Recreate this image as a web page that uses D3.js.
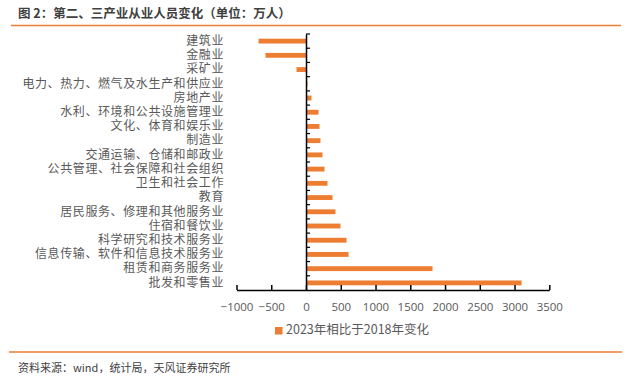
<!DOCTYPE html>
<html><head><meta charset="utf-8">
<script src="https://cdn.jsdelivr.net/npm/d3@7"></script>
<style>body{margin:0;background:#fff}svg{display:block}</style>
</head><body>
<script>
const categories = ["建筑业","金融业","采矿业","电力、热力、燃气及水生产和供应业","房地产业","水利、环境和公共设施管理业","文化、体育和娱乐业","制造业","交通运输、仓储和邮政业","公共管理、社会保障和社会组织","卫生和社会工作","教育","居民服务、修理和其他服务业","住宿和餐饮业","科学研究和技术服务业","信息传输、软件和信息技术服务业","租赁和商务服务业","批发和零售业"];
const values = [-683,-583,-137,22,79,180,194,208,237,266,309,381,424,496,583,612,1820,3101];
const xTicks = [-1000,-500,0,500,1000,1500,2000,2500,3000,3500];
const seriesName = "2023年相比于2018年变化";
const title = "图 2：第二、三产业从业人员变化（单位：万人）";
const source = "资料来源：wind，统计局，天风证券研究所";

const W = 629, H = 381;
const cjk = "'Noto Sans CJK SC','Microsoft YaHei',sans-serif";
const svg = d3.select("body").append("svg").attr("width", W).attr("height", H);

svg.append("text").attr("x", 18).attr("y", 18).text(title)
  .attr("font-family", cjk).attr("font-size", 12.5).attr("font-weight", "bold").attr("fill", "#404040");
svg.append("line").attr("x1", 11).attr("x2", 621).attr("y1", 25.5).attr("y2", 25.5)
  .attr("stroke", "#ED7D31").attr("stroke-width", 1.5);

const x = d3.scaleLinear().domain([-1000, 3500]).range([236.5, 549.3]);
const y = d3.scaleBand().domain(categories).range([34, 290]).paddingInner(0.66).paddingOuter(0.33);
const yb = d3.scaleBand().domain(categories).range([34, 290]);

svg.append("g").selectAll("rect").data(categories).join("rect")
  .attr("x", (d, i) => x(Math.min(0, values[i])))
  .attr("width", (d, i) => Math.abs(x(values[i]) - x(0)))
  .attr("y", d => y(d))
  .attr("height", y.bandwidth())
  .attr("fill", "#ED7D31");

// x axis
const xa = svg.append("g").attr("transform", "translate(0,290)")
  .call(d3.axisBottom(x).tickValues(xTicks).tickFormat(d3.format("d")).tickSizeInner(-5).tickSizeOuter(0).tickPadding(13));
xa.select(".domain").attr("stroke", "#000").attr("stroke-width", 1.5);
xa.selectAll(".tick line").attr("stroke", "#000").attr("stroke-width", 1.5);
xa.selectAll("text").attr("font-family", "'Open Sans','Noto Sans',sans-serif").attr("font-size", 11.5).attr("fill", "#595959");

// y axis at zero
const ya = svg.append("g").attr("transform", `translate(${x(0)},0)`)
  .call(d3.axisRight(yb).tickSize(0).tickFormat(""));
ya.select(".domain").attr("stroke", "#000").attr("stroke-width", 1.5);
const tickYs = d3.range(categories.length).map(i => 34 + i * yb.step());
svg.append("g").selectAll("line").data(tickYs).join("line")
  .attr("x1", x(0)).attr("x2", x(0) + 4).attr("y1", d => d).attr("y2", d => d)
  .attr("stroke", "#000").attr("stroke-width", 1.2);

// category labels
svg.append("g").selectAll("text").data(categories).join("text")
  .attr("x", 224).attr("y", d => yb(d) + yb.bandwidth() / 2 + 0.5)
  .attr("text-anchor", "end").attr("dominant-baseline", "middle")
  .attr("font-family", cjk).attr("font-size", 12).attr("letter-spacing", 0.6).attr("fill", "#595959")
  .text(d => d);

// legend
svg.append("rect").attr("x", 275).attr("y", 327).attr("width", 7.5).attr("height", 7.5).attr("fill", "#ED7D31");
svg.append("text").attr("x", 286).attr("y", 331).attr("dominant-baseline", "middle")
  .attr("font-family", cjk).attr("font-size", 12.5).attr("fill", "#595959").text(seriesName);

// footer
svg.append("line").attr("x1", 9).attr("x2", 622).attr("y1", 352).attr("y2", 352)
  .attr("stroke", "#ED7D31").attr("stroke-width", 1.5);
svg.append("text").attr("x", 18).attr("y", 369).attr("dominant-baseline", "middle")
  .attr("font-family", cjk).attr("font-size", 11).attr("fill", "#404040").text(source);
</script>
</body></html>
